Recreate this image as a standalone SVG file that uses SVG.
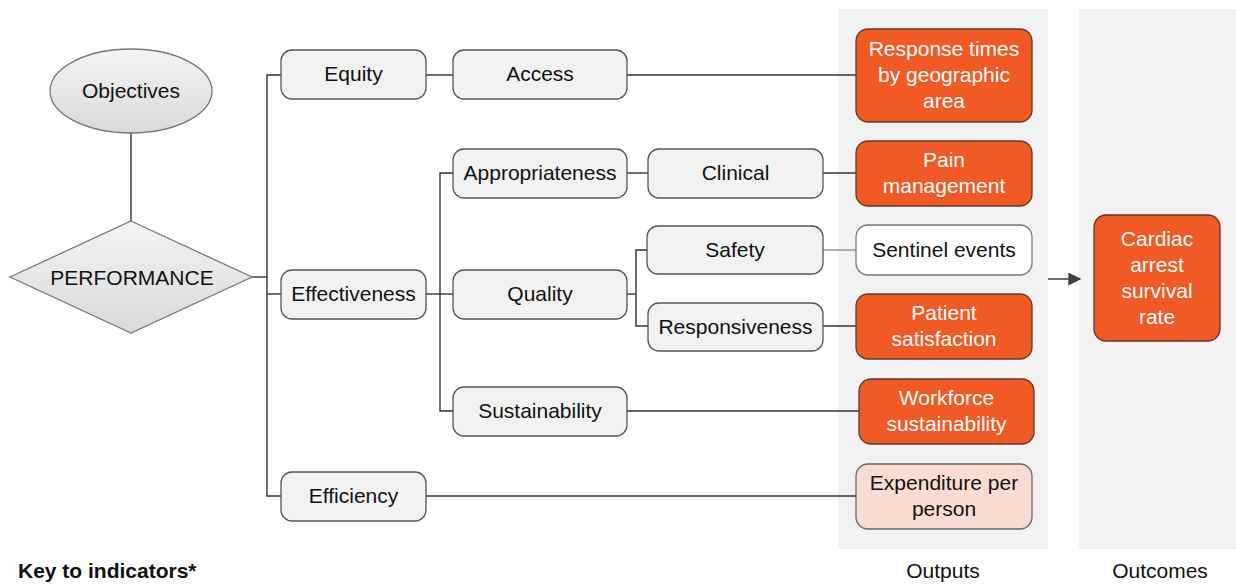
<svg xmlns="http://www.w3.org/2000/svg" width="1236" height="584" viewBox="0 0 1236 584">
<defs>
<linearGradient id="gg" x1="0" y1="0" x2="0" y2="1">
<stop offset="0" stop-color="#f4f4f4"/>
<stop offset="1" stop-color="#d9d9d9"/>
</linearGradient>
<marker id="arr" viewBox="0 0 10 10" refX="9" refY="5" markerWidth="13" markerHeight="13" markerUnits="userSpaceOnUse" orient="auto">
<path d="M0,0 L10,5 L0,10 z" fill="#404040"/>
</marker>
</defs>
<style>
text{font-family:"Liberation Sans",Arial,sans-serif;font-size:21px;fill:#111;text-anchor:middle}
.w{fill:#fff}
.box{fill:#f2f2f2;stroke:#555;stroke-width:1.3}
.org{fill:#f15a24;stroke:#5e3a2c;stroke-width:1.3}
.pale{fill:#fbdcd2;stroke:#666;stroke-width:1.3}
.wht{fill:#fff;stroke:#777;stroke-width:1.3}
.panel{fill:#f2f2f2}
.c{fill:none;stroke:#333;stroke-width:1.4}
.lc{fill:none;stroke:#999;stroke-width:1.4}
.key{font-weight:bold;text-anchor:start;font-size:21px}
</style>
<rect class="panel" x="838" y="9" width="210" height="540"/>
<rect class="panel" x="1079" y="9" width="157" height="540"/>
<g id="connectors">
<path class="c" d="M131,133 V221"/>
<path class="c" d="M252,277 H267"/>
<path class="c" d="M281,75 H267 V496 H281"/>
<path class="c" d="M267,294 H281"/>
<path class="c" d="M426,75 H453"/>
<path class="c" d="M627,75 H856"/>
<path class="c" d="M426,294 H453"/>
<path class="c" d="M453,173 H440 V411 H453"/>
<path class="c" d="M627,173 H648"/>
<path class="c" d="M823,173 H856"/>
<path class="c" d="M627,294 H636"/>
<path class="c" d="M647,250 H636 V326 H648"/>
<path class="lc" d="M823,250 H856"/>
<path class="c" d="M823,326 H856"/>
<path class="c" d="M627,411 H859"/>
<path class="c" d="M426,496 H856"/>
<path class="c" d="M1048,279 H1080" marker-end="url(#arr)" stroke="#404040"/>
</g>
<g id="objectives">
<ellipse cx="131" cy="91" rx="81" ry="42" fill="url(#gg)" stroke="#777" stroke-width="1.3"/>
<text x="131" y="98">Objectives</text>
</g>
<g id="performance">
<polygon points="131,221 252,277 131,333 10,277" fill="url(#gg)" stroke="#777" stroke-width="1.3"/>
<text x="132" y="285">PERFORMANCE</text>
</g>
<g id="equity"><rect class="box" x="281" y="50" width="145" height="49" rx="11"/><text x="353.5" y="81">Equity</text></g>
<g id="effectiveness"><rect class="box" x="281" y="270" width="145" height="49" rx="11"/><text x="353.5" y="301">Effectiveness</text></g>
<g id="efficiency"><rect class="box" x="281" y="472" width="145" height="49" rx="11"/><text x="353.5" y="503">Efficiency</text></g>
<g id="access"><rect class="box" x="453" y="50" width="174" height="49" rx="11"/><text x="540" y="81">Access</text></g>
<g id="appropriateness"><rect class="box" x="453" y="149" width="174" height="49" rx="11"/><text x="540" y="180">Appropriateness</text></g>
<g id="quality"><rect class="box" x="453" y="270" width="174" height="49" rx="11"/><text x="540" y="301">Quality</text></g>
<g id="sustainability"><rect class="box" x="453" y="387" width="174" height="49" rx="11"/><text x="540" y="418">Sustainability</text></g>
<g id="clinical"><rect class="box" x="648" y="149" width="175" height="49" rx="11"/><text x="735.5" y="180">Clinical</text></g>
<g id="safety"><rect class="box" x="647" y="226" width="176" height="48" rx="11"/><text x="735" y="257">Safety</text></g>
<g id="responsiveness"><rect class="box" x="648" y="303" width="175" height="48" rx="11"/><text x="735.5" y="334">Responsiveness</text></g>
<g id="response-times"><rect class="org" x="856" y="29" width="176" height="93" rx="12"/>
<text class="w" x="944" y="55.5">Response times</text><text class="w" x="944" y="81.5">by geographic</text><text class="w" x="944" y="107.5">area</text></g>
<g id="pain-management"><rect class="org" x="856" y="141" width="176" height="65" rx="12"/>
<text class="w" x="944" y="167">Pain</text><text class="w" x="944" y="193">management</text></g>
<g id="sentinel-events"><rect class="wht" x="856" y="225" width="176" height="50" rx="12"/>
<text x="944" y="257">Sentinel events</text></g>
<g id="patient-satisfaction"><rect class="org" x="856" y="294" width="176" height="65" rx="12"/>
<text class="w" x="944" y="320">Patient</text><text class="w" x="944" y="346">satisfaction</text></g>
<g id="workforce-sustainability"><rect class="org" x="859" y="379" width="175" height="65" rx="12"/>
<text class="w" x="946.5" y="405">Workforce</text><text class="w" x="946.5" y="431">sustainability</text></g>
<g id="expenditure"><rect class="pale" x="856" y="464" width="176" height="65" rx="12"/>
<text x="944" y="490">Expenditure per</text><text x="944" y="516">person</text></g>
<g id="cardiac"><rect class="org" x="1094" y="215" width="126" height="126" rx="12"/>
<text class="w" x="1157" y="245.5">Cardiac</text><text class="w" x="1157" y="271.5">arrest</text><text class="w" x="1157" y="297.5">survival</text><text class="w" x="1157" y="323.5">rate</text></g>
<text class="key" x="18" y="578">Key to indicators*</text>
<text x="943" y="578">Outputs</text>
<text x="1160" y="578">Outcomes</text>
</svg>
